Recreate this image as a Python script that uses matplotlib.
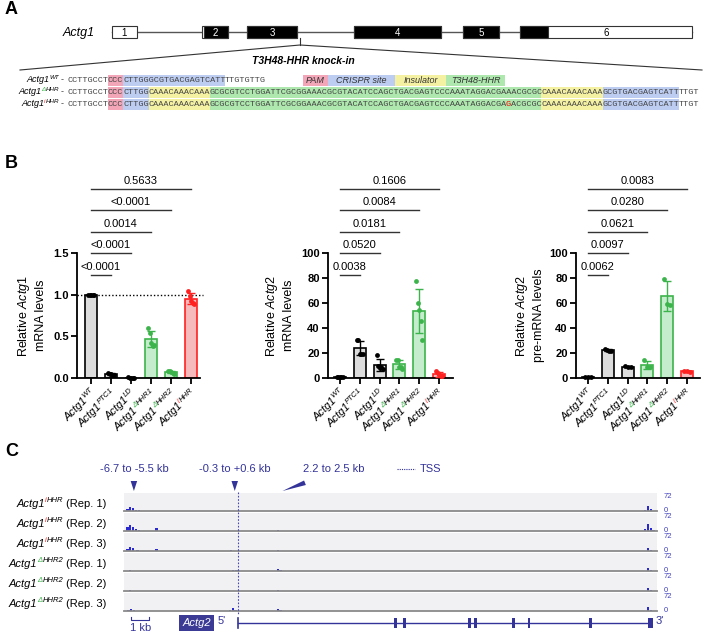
import numpy as np
import matplotlib.pyplot as plt
from matplotlib.patches import Rectangle, Polygon
from matplotlib.transforms import ScaledTranslation, blended_transform_factory

plt.rcParams['font.family'] = ['Liberation Sans', 'DejaVu Sans']
plt.rcParams['mathtext.fontset'] = 'custom'
plt.rcParams['mathtext.rm'] = 'Liberation Sans'
plt.rcParams['mathtext.it'] = 'Liberation Sans:italic'
plt.rcParams['mathtext.bf'] = 'Liberation Sans:bold'

# ---------------- panel A data ----------------
exon_start = [112, 202, 247, 354, 463, 520]
exon_end = [137, 228, 297, 441, 499, 692]
exon_cds = [(0, 0), (204, 228), (247, 297), (354, 441), (463, 499), (520, 548)]
knockin_at = 300

features = ['PAM', 'CRISPR site', 'Insulator', 'T3H48-HHR']
feature_colors = ['#f2a6b8', '#bdcdf2', '#f5f1a3', '#aee8ae']
feature_edges = [303, 328, 395, 446, 505]

hhr_core = 'GCGCGTCCTGGATTCGCGGAAACGCGTACATCCAGCTGACGAGTCCCAAATAGGACGA'
seq_labels = ['WT', 'ΔHHR', 'iHHR']
seq_wt = [('CCTTGCCT', ''), ('CCC', 'PAM'), ('CTTGGGCGTGACGAGTCATT', 'CRISPR site'),
          ('TTGTGTTG', '')]
seq_dhhr = [('CCTTGCCT', ''), ('CCC', 'PAM'), ('CTTGG', 'CRISPR site'),
            ('CAAACAAACAAA', 'Insulator'), (hhr_core + 'AACGCGC', 'T3H48-HHR'),
            ('CAAACAAACAAA', 'Insulator'), ('GCGTGACGAGTCATT', 'CRISPR site'), ('TTGT', '')]
seq_ihhr = [('CCTTGCCT', ''), ('CCC', 'PAM'), ('CTTGG', 'CRISPR site'),
            ('CAAACAAACAAA', 'Insulator'), (hhr_core, 'T3H48-HHR'), ('G', 'T3H48-HHR', 'red'),
            ('ACGCGC', 'T3H48-HHR'), ('CAAACAAACAAA', 'Insulator'),
            ('GCGTGACGAGTCATT', 'CRISPR site'), ('TTGT', '')]

# ---------------- panel B data ----------------
genotypes = ['WT', 'PTC1', 'LD', 'ΔHHR1', 'ΔHHR2', 'iHHR']
actg1_mrna = [[1.0, 1.0, 1.0, 1.0, 1.0], [0.06, 0.05, 0.05, 0.04, 0.04],
              [0.01, 0.005, 0.004, 0.003, 0.002], [0.60, 0.54, 0.42, 0.39, 0.40],
              [0.09, 0.08, 0.07, 0.06, 0.05], [1.05, 0.99, 0.93, 0.90, 0.89]]
actg2_mrna = [[1.2, 1.0, 0.9, 1.0, 0.9], [30.4, 30.4, 19.6, 19.6, 19.6],
              [18.5, 9.4, 8.1, 8.9, 7.3], [14.8, 14.8, 8.6, 8.6, 7.5],
              [77.7, 59.7, 54.3, 45.7, 30.1], [5.4, 4.0, 2.2, 1.3, 1.3]]
actg2_pre = [[1.0, 1.1, 0.9], [23.6, 22.8, 22.0, 21.6], [9.4, 8.9, 8.6],
             [14.1, 8.8, 8.5], [79.2, 59.2, 58.1], [5.5, 5.3, 5.0]]
pvals = [['<0.0001', '<0.0001', '0.0014', '<0.0001', '0.5633'],
         ['0.0038', '0.0520', '0.0181', '0.0084', '0.1606'],
         ['0.0062', '0.0097', '0.0621', '0.0280', '0.0083']]
ylabels = ['Relative $\\mathit{Actg1}$\nmRNA levels',
           'Relative $\\mathit{Actg2}$\nmRNA levels',
           'Relative $\\mathit{Actg2}$\npre-mRNA levels']

# ---------------- panel C data ----------------
track_names = [('iHHR', 'Rep. 1'), ('iHHR', 'Rep. 2'), ('iHHR', 'Rep. 3'),
               ('ΔHHR2', 'Rep. 1'), ('ΔHHR2', 'Rep. 2'), ('ΔHHR2', 'Rep. 3')]
track_peaks = [
    [(-6.15, 10), (-6.0, 19), (-5.85, 14), (-5.7, 6), (-5.5, 3), (-4.6, 2), (-1.6, 2),
     (2.2, 2), (8.2, 1.5), (14.0, 1.5), (19.6, 1.5), (22.6, 6), (22.75, 22), (22.9, 8)],
    [(-6.15, 16), (-6.0, 26), (-5.85, 20), (-5.7, 8), (-5.5, 4), (-4.55, 12), (2.2, 6),
     (6.5, 2), (22.6, 10), (22.75, 32), (22.9, 12), (23.05, 4)],
    [(-6.15, 10), (-6.0, 18), (-5.85, 12), (-5.6, 4), (-4.55, 8), (-0.4, 3), (0.3, 2),
     (2.2, 5), (3.5, 2), (11.5, 2), (16.5, 2), (22.75, 12), (22.9, 6)],
    [(-6.0, 4), (-5.7, 2), (-0.3, 5), (-0.1, 3), (2.2, 10), (2.35, 4), (22.75, 13), (22.9, 5)],
    [(-6.0, 3), (-0.3, 2), (2.2, 4), (22.75, 12), (22.9, 4)],
    [(-6.1, 6), (-5.95, 8), (-5.8, 4), (-4.6, 2), (-0.45, 6), (-0.3, 13), (-0.15, 5),
     (2.2, 10), (2.35, 4), (22.75, 17), (22.9, 6)],
]
track_max = 72
region_labels = ['-6.7 to -5.5 kb', '-0.3 to +0.6 kb', '2.2 to 2.5 kb']
region_marks = [-5.8, -0.2, 2.45]
region_text_x = [-5.8, -0.2, 5.3]
gene_end = 22.9
gene_exons = [8.67, 9.17, 12.78, 13.11, 15.22, 16.06, 19.5, 22.75]
gene_exon_w = [0.15, 0.15, 0.15, 0.15, 0.15, 0.15, 0.15, 0.3]
kb_lim = (-6.35, 23.25)

GREEN = '#3cb44b'
RED = '#ff2020'
BLUE = '#33339a'

W, H = 705, 634
fig = plt.figure(figsize=(W / 100, H / 100), dpi=100)


def px_axes(l, t, r, b):
    return fig.add_axes([l / W, 1 - b / H, (r - l) / W, (b - t) / H])


def rich(ax, x, y, parts, ha='left', rot=0, off=(0, 0), trans=None, **base):
    trans = ax.transData if trans is None else trans
    rend = fig.canvas.get_renderer()
    items = []
    for p in parts:
        kw = dict(base)
        kw.update(p[1] if len(p) > 1 else {})
        dy = kw.pop('dy', 0)
        pre = kw.pop('pre', 0)
        t = ax.text(x, y, p[0], transform=trans, ha='left', va='baseline',
                    rotation_mode='anchor', **kw)
        w = t.get_window_extent(rend).width * 72 / fig.dpi
        items.append((t, w, dy, pre))
    total = sum(i[1] + i[3] for i in items)
    pos = {'left': 0, 'center': -total / 2, 'right': -total}[ha]
    c, s = np.cos(np.radians(rot)), np.sin(np.radians(rot))
    for t, w, dy, pre in items:
        pos += pre
        ox = off[0] + pos * c - dy * s
        oy = off[1] + pos * s + dy * c
        t.set_rotation(rot)
        t.set_transform(trans + ScaledTranslation(ox / 72, oy / 72, fig.dpi_scale_trans))
        pos += w


def sup_parts(tag, size, dy):
    sup = dict(size=size, dy=dy)
    if tag.startswith('Δ'):
        return [('Δ', dict(sup, color=GREEN)), (tag[1:], sup)]
    if tag.startswith('i'):
        return [('i', dict(sup, color=RED)), (tag[1:], sup)]
    return [(tag, sup)]


ov = px_axes(0, 0, W, H)
ov.set_xlim(0, W)
ov.set_ylim(H, 0)
ov.axis('off')

# ================= Panel A =================
ov.text(5, 10, 'A', fontsize=13, fontweight='bold', va='center')
ov.text(79, 33, 'Actg1', fontsize=9, style='italic', ha='center', va='center')
ov.plot([exon_start[0], exon_end[-1]], [32, 32], color='#555555', lw=1, zorder=1)
for i, (s, e) in enumerate(zip(exon_start, exon_end)):
    ov.add_patch(Rectangle((s, 26), e - s, 12, fc='white', ec='#333333', lw=0.8, zorder=2))
    cs, ce = exon_cds[i]
    if ce > cs:
        ov.add_patch(Rectangle((cs, 26), ce - cs, 12, fc='black', ec='#333333', lw=0.8, zorder=3))
    xc = (s + e) / 2
    col = 'white' if cs <= xc <= ce else 'black'
    ov.text(xc, 32.5, str(i + 1), color=col, fontsize=7, ha='center', va='center', zorder=4)
ov.plot([knockin_at, knockin_at], [38, 45], color='#333333', lw=0.8)
ov.plot([20, knockin_at, 702], [70, 45, 70], color='#333333', lw=0.8)
ov.text(303, 61, 'T3H48-HHR knock-in', fontsize=7.5, fontweight='bold', style='italic',
        ha='center', va='center')

cw, x0 = 5.1, 67
for row, (lab, seq) in enumerate(zip(seq_labels, [seq_wt, seq_dhhr, seq_ihhr])):
    yr = 80 + 12 * row
    rich(ov, 64, yr + 2.5, [('Actg1',), *sup_parts(lab, 4.5, 2.8), ('-', dict(pre=1.5, style='normal', color='#444444'))],
         ha='right', size=6.5, style='italic')
    pos = 0
    for seg in seq:
        txt, feat = seg[0], seg[1]
        tcol = seg[2] if len(seg) > 2 else '#444444'
        if feat:
            ov.add_patch(Rectangle((x0 + pos * cw, yr - 5.5), len(txt) * cw, 11,
                                   fc=feature_colors[features.index(feat)], lw=0, zorder=1))
        ov.text(x0 + pos * cw, yr + 0.5, txt, family='Liberation Mono', fontsize=6.1,
                color=tcol, va='center', ha='left', zorder=3)
        pos += len(txt)
for k, f in enumerate(features):
    ov.add_patch(Rectangle((feature_edges[k], 75), feature_edges[k + 1] - feature_edges[k], 11,
                           fc=feature_colors[k], lw=0))
    ov.text((feature_edges[k] + feature_edges[k + 1]) / 2, 80.5, f, fontsize=6.5,
            style='italic', ha='center', va='center', color='#333333')

# ================= Panel B =================
ov.text(5, 163, 'B', fontsize=13, fontweight='bold', va='center')
b_left = [77, 328, 576]
b_right = [200, 453, 700]
b_xlim = [(-0.7, 5.45), (-0.6, 5.7), (-0.6, 5.65)]
bar_face = ['#dcdcdc', '#dcdcdc', '#dcdcdc', '#c6ecce', '#c6ecce', '#f6b9bc']
bar_edge = ['black', 'black', 'black', GREEN, GREEN, RED]
bracket_y = [0.824, 1.0, 1.168, 1.344, 1.512]
label_x = [-0.245, -0.264, -0.25]

for j, data in enumerate([actg1_mrna, actg2_mrna, actg2_pre]):
    ax = px_axes(b_left[j], 253, b_right[j], 378)
    xs = np.arange(len(genotypes))
    means = [np.mean(p) for p in data]
    sds = [np.std(p, ddof=1) for p in data]
    ax.bar(xs, means, width=0.6, color=bar_face, edgecolor=bar_edge, linewidth=1.2, zorder=2)
    for k in xs:
        ax.errorbar(k, means[k], yerr=sds[k], fmt='none', ecolor=bar_edge[k], elinewidth=1,
                    capsize=3, capthick=1, zorder=3)
        n = len(data[k])
        ax.scatter(k + np.linspace(-0.15, 0.15, n), data[k], s=12, color=bar_edge[k],
                   zorder=4, clip_on=False, lw=0)
    ax.set_xlim(*b_xlim[j])
    if j == 0:
        ax.set_ylim(0, 1.5)
        ax.set_yticks([0, 0.5, 1.0, 1.5], labels=['0.0', '0.5', '1.0', '1.5'],
                      fontweight='bold', fontsize=8)
        ax.plot([b_xlim[j][0], 5.6], [1, 1], color='black', ls=(0, (1, 1.5)), lw=1,
                zorder=1, clip_on=False)
    else:
        ax.set_ylim(0, 100)
        ax.set_yticks(range(0, 101, 20), labels=[str(v) for v in range(0, 101, 20)],
                      fontweight='bold', fontsize=8)
    ax.set_xticks(xs, labels=[''] * len(xs))
    ax.spines[['top', 'right']].set_visible(False)
    for sp in ['left', 'bottom']:
        ax.spines[sp].set_linewidth(1.3)
    ax.tick_params(width=1.3, length=4, pad=2)
    ax.set_facecolor('none')
    ax.set_ylabel(ylabels[j], fontsize=9, linespacing=1.3)
    ax.yaxis.set_label_coords(label_x[j], 0.5)
    bt = blended_transform_factory(ax.transData, ax.transAxes)
    for k in range(1, 6):
        yk = bracket_y[k - 1]
        ax.plot([0, k], [yk, yk], transform=bt, color='#333333', lw=1, clip_on=False)
        ax.annotate(pvals[j][k - 1], xy=(k / 2, yk), xycoords=bt, xytext=(0, 2.5),
                    textcoords='offset points', ha='center', va='bottom', fontsize=8)
    for k, g in enumerate(genotypes):
        rich(ax, k, 0, [('Actg1',), *sup_parts(g, 5.5, 3.5)], ha='right', rot=45,
             off=(4, -11), trans=bt, size=8, style='italic')

# ================= Panel C =================
ov.text(5, 452, 'C', fontsize=13, fontweight='bold', va='center')
baselines = [511, 531, 551, 571, 591, 611]
for i, (name, peaks) in enumerate(zip(track_names, track_peaks)):
    b = baselines[i]
    ax = px_axes(124, b - 18, 657, b)
    ax.set_xlim(*kb_lim)
    ax.set_ylim(0, track_max * 18 / 16)
    ax.set_facecolor('#f1f1f4')
    ax.bar([p[0] for p in peaks], [p[1] for p in peaks], width=0.13, color='#2a2ad0', lw=0)
    for sp in ['top', 'right', 'left']:
        ax.spines[sp].set_visible(False)
    ax.spines['bottom'].set_color('#8a8a8a')
    ax.spines['bottom'].set_linewidth(1.3)
    ax.set_xticks([])
    ax.set_yticks([])
    ov.text(664, b - 15, str(track_max), fontsize=5.5, color='#4040c0', va='center')
    ov.text(664, b - 1, '0', fontsize=5.5, color='#4040c0', va='center')
    rich(ov, 107, b - 4, [('Actg1', dict(style='italic')),
                          *sup_parts(name[0], 5.5, 3.5),
                          ('(' + name[1] + ')', dict(pre=2.3))],
         ha='right', size=8, style='italic')
    # un-italic the replicate part
    ov.texts[-1].set_style('normal')

axc = px_axes(124, 440, 657, 634)
axc.set_xlim(*kb_lim)
axc.set_ylim(634, 440)
axc.axis('off')
for lab, xm, xt in zip(region_labels, region_marks, region_text_x):
    axc.text(xt, 469, lab, color=BLUE, fontsize=8, ha='center', va='center')
for xm in region_marks[:2]:
    axc.add_patch(Polygon([(xm - 0.18, 481), (xm + 0.18, 481), (xm, 491)], closed=True,
                          fc=BLUE, ec='none'))
xm = region_marks[2]
axc.add_patch(Polygon([(xm, 491), (xm + 1.2, 480.5), (xm + 1.3, 485)], closed=True,
                      fc=BLUE, ec='none'))
axc.plot([8.8, 9.8], [469, 469], color=BLUE, ls=(0, (1, 1)), lw=0.8)
axc.text(10.1, 469, 'TSS', color=BLUE, fontsize=8, va='center')
axc.plot([0, 0], [492, 614], color='#4848b8', ls=(0, (1.5, 1.5)), lw=0.8)
# gene model
axc.plot([0, gene_end], [623, 623], color=BLUE, lw=1)
axc.plot([0, 0], [618, 628], color=BLUE, lw=1.2)
for ex, w in zip(gene_exons, gene_exon_w):
    axc.add_patch(Rectangle((ex, 618), w, 10, fc=BLUE, ec='none'))
axc.text(-0.7, 621, "5'", color=BLUE, fontsize=8, ha='right', va='center')
axc.text(23.15, 621, "3'", color=BLUE, fontsize=8, ha='left', va='center')
axc.add_patch(Rectangle((-3.3, 615), 1.95, 16, fc='#3b3b96', ec='none'))
axc.text(-2.32, 623, 'Actg2', color='white', fontsize=8, style='italic', ha='center',
         va='center')
axc.plot([-5.95, -5.95, -4.95, -4.95], [617, 620, 620, 617], color=BLUE, lw=0.8)
axc.text(-5.45, 628, '1 kb', color=BLUE, fontsize=8, ha='center', va='center')

fig.savefig('out.png', dpi=100)
